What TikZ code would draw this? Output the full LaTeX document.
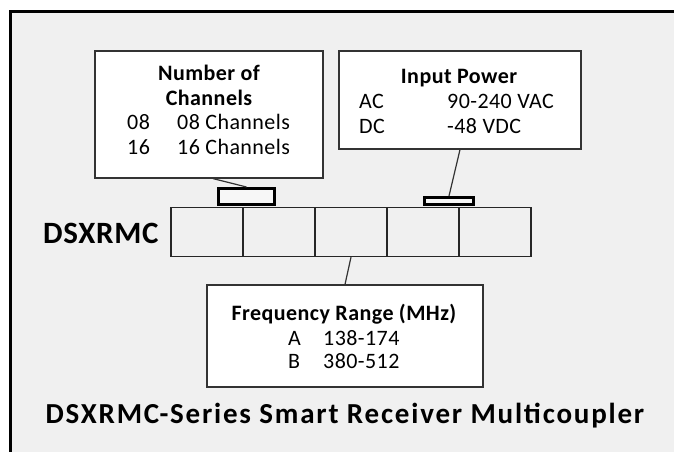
\documentclass[tikz,border=0pt]{standalone}
\usepackage{fontspec}
\setmainfont{Carlito}
\usetikzlibrary{positioning}

\begin{document}
\begin{tikzpicture}[x = 1pt, y = -1pt,
  infobox/.style = {draw = black!80, fill = white, line width = 1.2pt, inner sep = 0pt},
  cell/.style = {draw = black!85, fill = black!6, line width = 1.3pt, minimum width = 72pt, minimum height = 49pt, inner sep = 0pt},
  tab/.style = {draw = black, fill = black!3, line width = 3pt, inner sep = 0pt},
  txt/.style = {inner sep = 0pt, font = \fontsize{22}{26}\selectfont\addfontfeature{LetterSpace=2}},
  head/.style = {txt, font = \bfseries\fontsize{22}{26}\selectfont\addfontfeature{LetterSpace=2}, anchor = base},
  row/.style = {txt, anchor = base west},
  wire/.style = {draw = black!80, line width = 1.2pt}]
\useasboundingbox (0,0) rectangle (674,452);
\fill[white] (0,0) rectangle (674,452);
\fill[black!6] (10,11) rectangle (674,452);
\draw[line width = 3pt] (10.5,452) |- (674,11.5);

\node[infobox, minimum width = 228pt, minimum height = 127pt] (chanbox) at (209,114.5) {};
\node[infobox, minimum width = 242pt, minimum height = 98pt] (powerbox) at (460,100) {};
\node[infobox, minimum width = 276pt, minimum height = 102pt] (freqbox) at (345,336) {};

\foreach \i in {1,...,5}
  \node[cell] (cell\i) at ({135 + 72*\i}, 232) {};
\node[tab, minimum width = 56pt, minimum height = 16pt] (chantab) at (246.5,196.5) {};
\node[tab, minimum width = 49pt, minimum height = 7pt] (powertab) at (449,201) {};

\node[head] (chanhead) at (209,80) {Number of};
\node[head] (chanhead2) at (209,105) {Channels};
\node[row] (c08) at (127,129) {08};
\node[row] (c08txt) at (177,129) {08 Channels};
\node[row] (c16) at (127,154) {16};
\node[row] (c16txt) at (177,154) {16 Channels};

\node[head] (powerhead) at (459,83) {Input Power};
\node[row] (ac) at (359,108) {AC};
\node[row] (actxt) at (447,108) {90-240 VAC};
\node[row] (dc) at (359,133) {DC};
\node[row] (dctxt) at (447,133) {-48 VDC};

\node[head] (freqhead) at (344,320) {Frequency Range (MHz)};
\node[row] (fa) at (288,345) {A};
\node[row] (fatxt) at (323,345) {138-174};
\node[row] (fb) at (288,368) {B};
\node[row] (fbtxt) at (323,368) {380-512};

\node[anchor = base west, inner sep = 0pt, font = \bfseries\fontsize{31}{31}\selectfont\addfontfeature{LetterSpace=2.2}] (model) at (43,243) {DSXRMC};
\node[anchor = base, inner sep = 0pt, font = \bfseries\fontsize{29}{29}\selectfont\addfontfeature{LetterSpace=6.2}] (title) at (345,423) {DSXRMC-Series Smart Receiver Multicoupler};

\draw[wire] ([xshift = 4pt]chanbox.south) -- (chantab.north);
\draw[wire] (powerbox.south) -- (powertab.north);
\draw[wire] (cell3.south) -- (freqbox.north);
\end{tikzpicture}
\end{document}
